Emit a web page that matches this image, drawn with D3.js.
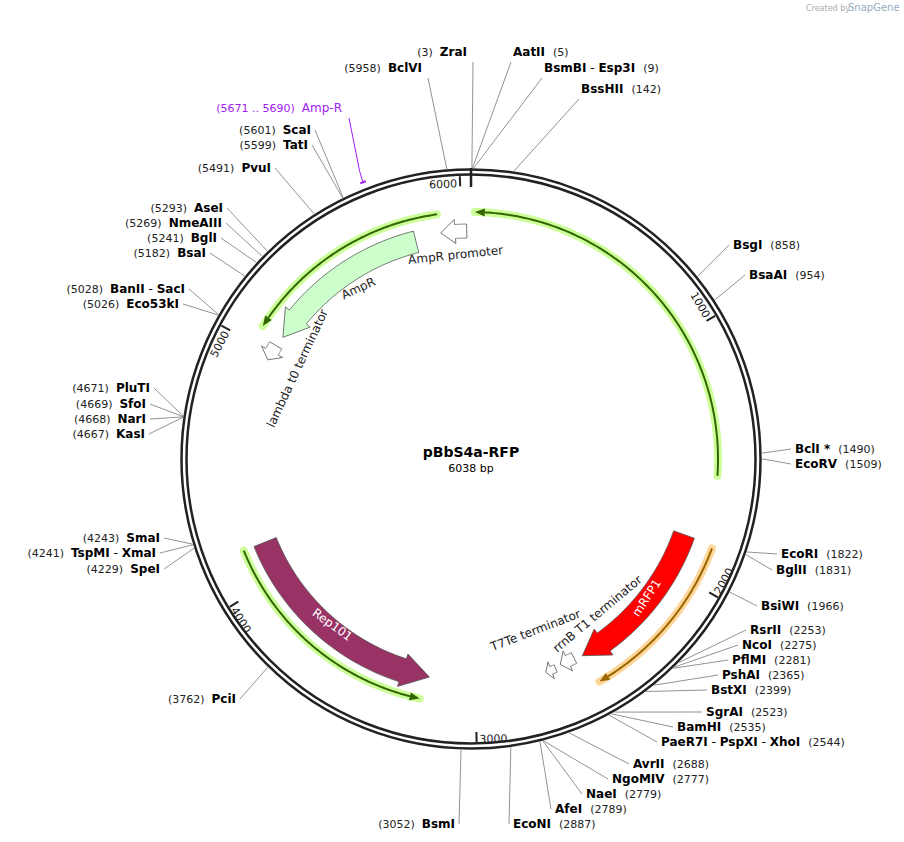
<!DOCTYPE html>
<html><head><meta charset="utf-8">
<script src="https://cdn.jsdelivr.net/npm/d3@7/dist/d3.min.js"></script>
<style>body{margin:0;background:#fff}svg{display:block}text{font-family:"DejaVu Sans",Verdana,sans-serif}</style>
</head><body><svg id="c" width="904" height="842"></svg>
<script>
const plasmidName = "pBbS4a-RFP";
const plasmidLength = 6038;
const tickValues = [1000, 2000, 3000, 4000, 5000, 6000];

const enzymeNames = ["ZraI","BclVI","AatII","BsmBI - Esp3I","BssHII","BsgI","BsaAI","BclI *","EcoRV","EcoRI","BglII","BsiWI","RsrII","NcoI","PflMI","PshAI","BstXI","SgrAI","BamHI","PaeR7I - PspXI - XhoI","AvrII","NgoMIV","NaeI","AfeI","EcoNI","BsmI","PciI","SmaI","TspMI - XmaI","SpeI","PluTI","SfoI","NarI","KasI","BanII - SacI","Eco53kI","AseI","NmeAIII","BglI","BsaI","PvuI","ScaI","TatI"];
const enzymePositions = [3,5958,5,9,142,858,954,1490,1509,1822,1831,1966,2253,2275,2281,2365,2399,2523,2535,2544,2688,2777,2779,2789,2887,3052,3762,4243,4241,4229,4671,4669,4668,4667,5028,5026,5293,5269,5241,5182,5491,5601,5599];
const labelSide = ["TL","TL","TR","TR","TR","R","R","R","R","R","R","R","R","R","R","R","R","R","R","R","R","R","R","R","R","L","L","L","L","L","L","L","L","L","L","L","L","L","L","L","L","L","L"];
const labelX = [467,422,513,544,581,733,749,795,795,781,776,761,750,742,732,722,711,706,677,661,633,612,586,555,513,455,236,160,156,160,150,146,146,145,185,179,223,222,217,206,271,311,308];
const labelY = [56,72,56,72,93,249,279,453,468,558,574,610,634,649,664,679,694,716,731,746,768,783,798,813,828,828,703,542,557,573,392,408,423,438,293,308,212,227,242,257,172,134,149];

const featNames = ["AmpR promoter","AmpR","lambda t0 terminator","Rep101","mRFP1","rrnB T1 terminator","T7Te terminator"];
const featTail = [6020, 5800, 5035, 4160, 1837, 2560, 2650];
const featHead = [5910, 5080, 4965, 3200, 2524, 2625, 2695];
const featRadius = [228, 224, 226, 222, 226, 224, 226];
const featWidth = [14, 22, 14, 24, 22, 12, 8];
const featColor = ["#ffffff","#ccffcc","#ffffff","#993366","#ff0000","#ffffff","#ffffff"];

const arcTail = [1575, 5905, 1851, 4160];
const arcHead = [15, 5075, 2516, 3222];
const arcRadius = [247, 247, 257, 245];
const arcGlow = ["#ccff99","#ccff99","#ffd699","#ccff99"];
const arcLine = ["#336600","#336600","#996600","#336600"];

const svg = d3.select("#c");
const cx = 471, cy = 459, R = 288;
const ang = d3.scaleLinear().domain([0, plasmidLength]).range([0, 2*Math.PI]);
const pt = (p, r) => [cx + r*Math.sin(ang(p)), cy - r*Math.cos(ang(p))];

svg.append("text").attr("x",806).attr("y",11).attr("font-size",8).attr("fill","#aaa").text("Created by");
svg.append("text").attr("x",848).attr("y",11).attr("font-size",10).attr("fill","#9ab").text("SnapGene");

svg.append("circle").attr("cx",cx).attr("cy",cy).attr("r",R+1.5).attr("fill","none").attr("stroke","#222").attr("stroke-width",2.5);
svg.append("circle").attr("cx",cx).attr("cy",cy).attr("r",R-3.5).attr("fill","none").attr("stroke","#222").attr("stroke-width",2.5);
svg.append("line").attr("x1",pt(0,R+3)[0]).attr("y1",pt(0,R+3)[1]).attr("x2",pt(0,R-16)[0]).attr("y2",pt(0,R-16)[1]).attr("stroke","#222").attr("stroke-width",2.5);

tickValues.forEach(v=>{
  const a=ang(v)*180/Math.PI;
  const p1=pt(v,R-5), p2=pt(v,R-15);
  svg.append("line").attr("x1",p1[0]).attr("y1",p1[1]).attr("x2",p2[0]).attr("y2",p2[1]).attr("stroke","#222").attr("stroke-width",2);
  const top = (a<90||a>270);
  const p=pt(v,R-13);
  svg.append("text").attr("transform",`translate(${p[0]},${p[1]}) rotate(${top?a:a-180})`)
    .attr("text-anchor", top?"end":"start").attr("dx", top?-3:3).attr("dy", top?3:9).attr("font-size",11).attr("fill","#222").text(v);
});

enzymeNames.forEach((n,i)=>{
  const s=labelSide[i], x=labelX[i], y=labelY[i];
  let ex, ey;
  if(s==="R"){ex=x-4;ey=y-4;} else if(s==="L"){ex=x+4;ey=y-4;} else if(s==="TL"){ex=x+6;ey=y+6;} else {ex=x-2;ey=y+6;}
  const p=pt(enzymePositions[i],R+3);
  svg.append("line").attr("x1",p[0]).attr("y1",p[1]).attr("x2",ex).attr("y2",ey).attr("stroke","#777").attr("stroke-width",0.8);
  const left=(s==="L"||s==="TL");
  const t=svg.append("text").attr("x",x).attr("y",y).attr("font-size",12).attr("text-anchor",left?"end":"start");
  const parts=n.split(" - ");
  const num=`(${enzymePositions[i]})`;
  const addNames=(first)=>parts.forEach((q,j)=>{ if(j>0) t.append("tspan").attr("font-weight","normal").text(" - "); const ts=t.append("tspan").attr("font-weight","bold").text(q); if(first&&j===0) ts.attr("dx",7);});
  if(left){ t.append("tspan").attr("font-size",11).attr("fill","#222").text(num); addNames(true); }
  else { addNames(false); t.append("tspan").attr("font-size",11).attr("fill","#222").attr("dx",8).text(num); }
});

const ampPrimer=[5671,5690];
const pA=pt(ampPrimer[0],R+9), pB=pt(ampPrimer[1],R+9);
svg.append("path").attr("d",`M${pA[0]},${pA[1]} A${R+9},${R+9} 0 0 1 ${pB[0]},${pB[1]}`).attr("stroke","#a020f0").attr("stroke-width",2).attr("fill","none");
const pm=pt((ampPrimer[0]+ampPrimer[1])/2,R+10);
svg.append("path").attr("d",`M${pm[0]},${pm[1]} L${pm[0]-3},${pm[1]-10} L349,118`).attr("stroke","#a020f0").attr("fill","none").attr("stroke-width",1);
const at=svg.append("text").attr("x",342).attr("y",112).attr("text-anchor","end").attr("fill","#a020f0").attr("font-size",12);
at.append("tspan").attr("font-size",11).text(`(${ampPrimer[0]} .. ${ampPrimer[1]})`);
at.append("tspan").attr("dx",7).text("Amp-R");

function arcPts(p0,p1,r,n){const a=[];for(let k=0;k<=n;k++){a.push(pt(p0+(p1-p0)*k/n,r));}return a;}
const line=d3.line();
const bpPerPx = r => plasmidLength/(2*Math.PI*r);

arcTail.forEach((t,i)=>{
  const h=arcHead[i], r=arcRadius[i], dir=Math.sign(h-t), hb=h-dir*10*bpPerPx(r);
  svg.append("path").attr("d",line(arcPts(t,h,r,120))).attr("stroke",arcGlow[i]).attr("stroke-width",8).attr("fill","none").attr("stroke-linecap","round");
  svg.append("path").attr("d",line(arcPts(t,hb,r,120))).attr("stroke",arcLine[i]).attr("stroke-width",2).attr("fill","none");
  const tip=pt(h,r), b1=pt(hb,r+4), b2=pt(hb,r-4);
  svg.append("path").attr("d",`M${tip}L${b1}L${b2}Z`).attr("fill",arcLine[i]);
});

featNames.forEach((n,i)=>{
  const t=featTail[i], h=featHead[i], r=featRadius[i], w=featWidth[i];
  const dir=Math.sign(h-t), headLen=Math.min(Math.abs(h-t)*0.55, (w*1.15)*bpPerPx(r));
  const hb=h-dir*headLen;
  const outer=arcPts(t,hb,r+w/2,60), inner=arcPts(hb,t,r-w/2,60);
  const hw=w/2+5;
  const pts=[...outer, pt(hb,r+hw), pt(h,r), pt(hb,r-hw), ...inner];
  svg.append("path").attr("d",line(pts)+"Z").attr("fill",featColor[i]).attr("stroke","#555").attr("stroke-width",0.8);
});

const lab=(txt,x,y,rot,opt={})=>svg.append("text").attr("transform",`translate(${x},${y}) rotate(${rot})`).attr("text-anchor","middle")
  .attr("font-size",12).attr("fill",opt.fill||"#222").text(txt);
lab(featNames[0],456,259,-6);
lab(featNames[1],360,292,-25);
lab(featNames[2],301,370,-65);
lab(featNames[3],330,628,36,{fill:"#fff"});
lab(featNames[4],650,600,-57,{fill:"#fff"});
lab(featNames[5],600,617,-40);
lab(featNames[6],537,634,-21);

svg.append("text").attr("x",cx).attr("y",457).attr("text-anchor","middle").attr("font-weight","bold").attr("font-size",14).text(plasmidName);
svg.append("text").attr("x",cx).attr("y",472).attr("text-anchor","middle").attr("font-size",11).text(plasmidLength+" bp");
</script></body></html>
